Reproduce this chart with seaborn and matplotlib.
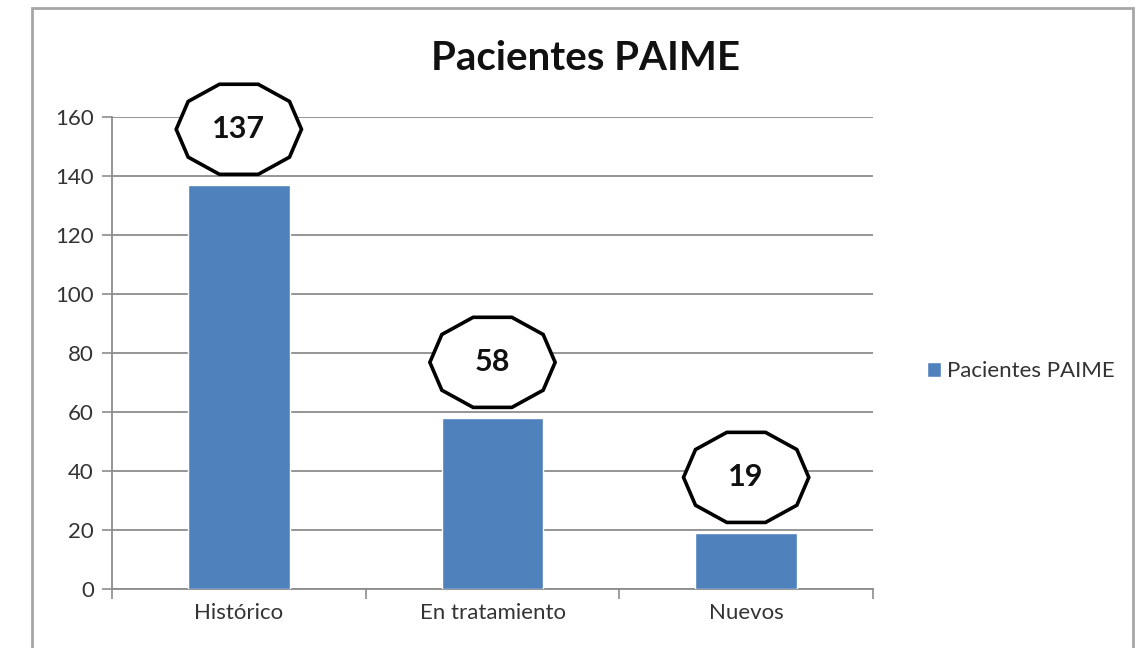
import numpy as np
import pandas as pd
import matplotlib
matplotlib.use("Agg")
import matplotlib.pyplot as plt
from matplotlib.path import Path
from matplotlib.patches import Rectangle
from matplotlib.ticker import FixedLocator
import seaborn as sns

# datos del grafico
categorias = ["Histórico", "En tratamiento", "Nuevos"]
pacientes = [137, 58, 19]
serie = "Pacientes PAIME"
titulo = "Pacientes PAIME"
yticks = [0, 20, 40, 60, 80, 100, 120, 140, 160]

AZUL = "#4F81BD"
GRIS = "#8C8C8C"


def decagono(x0, y0, width, height, mutation_size):
    # caja de 10 lados alrededor del texto (como en excel)
    cx = x0 + width / 2
    cy = y0 + height / 2
    rx = 2.05 * mutation_size
    ry = 1.55 * mutation_size
    ang = np.deg2rad(np.arange(0, 360, 36))
    pts = np.column_stack([cx + rx * np.cos(ang), cy + ry * np.sin(ang)])
    pts = np.vstack([pts, pts[:1]])
    codes = [Path.MOVETO] + [Path.LINETO] * 9 + [Path.CLOSEPOLY]
    return Path(pts, codes)


sns.set_theme(style="white")
plt.rcParams["font.family"] = ["Lato", "DejaVu Sans"]

df = pd.DataFrame({"categoria": categorias, "pacientes": pacientes})

fig = plt.figure(figsize=(11.41, 6.48), dpi=100)
ax = fig.add_axes([112 / 1141, 59 / 648, (873 - 112) / 1141, (589 - 117) / 648])

sns.barplot(data=df, x="categoria", y="pacientes", color=AZUL, width=0.4,
            saturation=1, label=serie, ax=ax, zorder=3)

ax.set_ylim(0, 160)
ax.set_xlim(-0.5, len(categorias) - 0.5)
ax.set_yticks(yticks)
ax.xaxis.set_minor_locator(FixedLocator(np.arange(-0.5, len(categorias), 1.0)))
ax.tick_params(axis="x", which="major", bottom=True, length=0, labelsize=16, pad=10,
               colors="#333333")
ax.tick_params(axis="x", which="minor", bottom=True, length=7, width=1.2, color=GRIS,
               direction="out")
ax.tick_params(axis="y", which="major", left=True, length=7, width=1.2, color=GRIS,
               direction="out", labelsize=16, pad=6, labelcolor="#333333")
ax.set_xlabel("")
ax.set_ylabel("")

ax.grid(axis="y", color=GRIS, linewidth=1.3, zorder=0)
ax.set_axisbelow(True)
for lado in ["top", "right"]:
    ax.spines[lado].set_visible(False)
for lado in ["left", "bottom"]:
    ax.spines[lado].set_color(GRIS)
    ax.spines[lado].set_linewidth(1.3)

# etiquetas de valor dentro de los decagonos
for i, v in enumerate(pacientes):
    ax.annotate(str(v), xy=(i, v), xytext=(0, 40), textcoords="offset points",
                ha="center", va="center", fontsize=22, fontweight="bold",
                color="#111111", zorder=5,
                bbox=dict(boxstyle=decagono, facecolor="white",
                          edgecolor="black", linewidth=2.6))

ax.legend(loc="center left", bbox_to_anchor=(907 / 1141, (648 - 371) / 648),
          bbox_transform=fig.transFigure, frameon=False, fontsize=16,
          handlelength=0.65, handleheight=0.65, handletextpad=0.25,
          labelcolor="#333333")

fig.text(0.513, (648 - 58) / 648, titulo, ha="center", va="center",
         fontsize=29, fontweight="bold", color="#111111")

# marco del grafico
fig.patches.append(Rectangle((32 / 1141, -0.02), (1133 - 32) / 1141, 0.02 + (640 / 648),
                             transform=fig.transFigure, fill=False,
                             edgecolor="#A6A6A6", linewidth=2))

plt.savefig("out.png", dpi=100)
plt.close()
